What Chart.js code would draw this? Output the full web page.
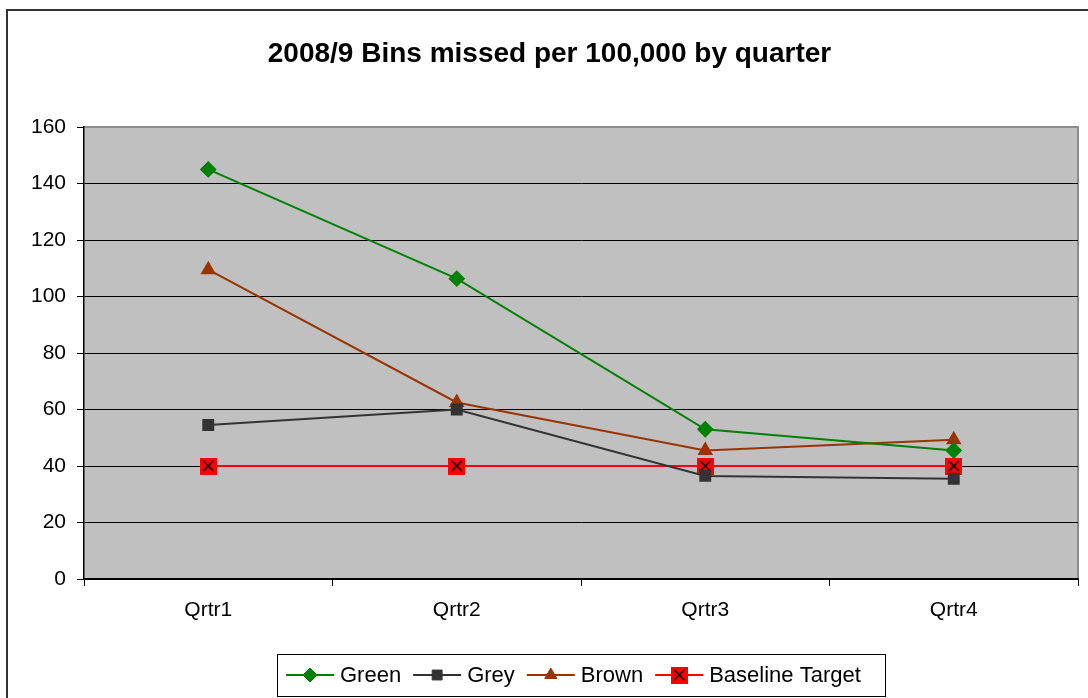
<!DOCTYPE html>
<html><head><meta charset="utf-8">
<script src="https://cdn.jsdelivr.net/npm/chart.js@4/dist/chart.umd.min.js"></script>
<style>html,body{margin:0;padding:0;background:#fff}#wrap{width:1088px;height:698px;position:relative}</style>
</head><body><div id="wrap"><canvas id="c" width="1088" height="698"></canvas></div>
<script>
const titleText = '2008/9 Bins missed per 100,000 by quarter';
const categories = ['Qrtr1', 'Qrtr2', 'Qrtr3', 'Qrtr4'];
const greenValues = [145, 106.3, 53, 45.5];
const greyValues = [54.5, 60, 36.5, 35.5];
const brownValues = [109.5, 62.5, 45.5, 49.3];
const baselineValues = [40, 40, 40, 40];
const yTickValues = [0, 20, 40, 60, 80, 100, 120, 140, 160];

const FONT = '"Liberation Sans", Arial, Helvetica, sans-serif';

// red square with black X marker
const xMark = document.createElement('canvas');
xMark.width = 17; xMark.height = 17;
(function(){
  const g = xMark.getContext('2d');
  g.fillStyle = '#FF0000'; g.fillRect(0, 0, 17, 17);
  g.strokeStyle = '#000'; g.lineWidth = 1.6;
  g.beginPath(); g.moveTo(3.5, 3.5); g.lineTo(13.5, 13.5); g.moveTo(13.5, 3.5); g.lineTo(3.5, 13.5); g.stroke();
})();

const framePlugin = {
  id: 'frame',
  beforeDraw(chart) {
    const ctx = chart.ctx, a = chart.chartArea;
    ctx.save();
    ctx.fillStyle = '#fff'; ctx.fillRect(0, 0, chart.width, chart.height);
    ctx.strokeStyle = '#333'; ctx.lineWidth = 2;
    ctx.beginPath(); ctx.moveTo(7, chart.height); ctx.lineTo(7, 10); ctx.lineTo(chart.width, 10); ctx.stroke();
    ctx.fillStyle = '#C0C0C0';
    ctx.fillRect(a.left, a.top, a.right - a.left, a.bottom - a.top);
    ctx.strokeStyle = '#8c8c8c'; ctx.lineWidth = 2;
    ctx.beginPath(); ctx.moveTo(a.left, a.top); ctx.lineTo(a.right, a.top); ctx.lineTo(a.right, a.bottom); ctx.stroke();
    ctx.restore();
  },
  afterDraw(chart) {
    const ctx = chart.ctx;
    ctx.save();
    const bx = 277, by = 654, bw = 608, bh = 42;
    ctx.fillStyle = '#fff'; ctx.fillRect(bx, by, bw, bh);
    ctx.strokeStyle = '#000'; ctx.lineWidth = 1;
    ctx.strokeRect(bx + 0.5, by + 0.5, bw, bh);
    ctx.font = '22px ' + FONT;
    ctx.textBaseline = 'middle'; ctx.textAlign = 'left';
    let x = 286; const cy = by + bh / 2;
    chart.data.datasets.forEach(ds => {
      ctx.strokeStyle = ds.borderColor; ctx.lineWidth = ds.borderWidth;
      ctx.beginPath(); ctx.moveTo(x, cy); ctx.lineTo(x + 48, cy); ctx.stroke();
      ctx.fillStyle = ds.pointBackgroundColor;
      ctx.strokeStyle = ds.pointBorderColor;
      ctx.lineWidth = 1;
      Chart.helpers.drawPoint(ctx, {
        pointStyle: ds.pointStyle, radius: ds.pointRadius, rotation: 0,
        borderWidth: 1
      }, x + 24, cy);
      ctx.fillStyle = '#000';
      ctx.fillText(ds.label, x + 54, cy + 1);
      x += 54 + ctx.measureText(ds.label).width + 12;
    });
    ctx.restore();
  }
};

new Chart(document.getElementById('c'), {
  type: 'line',
  data: {
    labels: categories,
    datasets: [
      { label: 'Green', data: greenValues, borderColor: '#008000', backgroundColor: '#008000',
        pointBackgroundColor: '#008000', pointBorderColor: '#008000', pointStyle: 'rectRot', pointRadius: 7, borderWidth: 2 },
      { label: 'Grey', data: greyValues, borderColor: '#333333', backgroundColor: '#333333',
        pointBackgroundColor: '#333333', pointBorderColor: '#333333', pointStyle: 'rect', pointRadius: 7, borderWidth: 2 },
      { label: 'Brown', data: brownValues, borderColor: '#993300', backgroundColor: '#993300',
        pointBackgroundColor: '#993300', pointBorderColor: '#993300', pointStyle: 'triangle', pointRadius: 7, borderWidth: 2 },
      { label: 'Baseline Target', data: baselineValues, borderColor: '#FF0000', backgroundColor: '#FF0000',
        pointBackgroundColor: '#FF0000', pointBorderColor: '#FF0000', pointStyle: xMark, pointRadius: 8, borderWidth: 2 }
    ]
  },
  options: {
    responsive: false,
    animation: false,
    events: [],
    layout: { padding: { left: 20, right: 9, top: 0, bottom: 0 } },
    plugins: {
      legend: { display: false },
      tooltip: { enabled: false },
      title: {
        display: true, text: titleText, color: '#000',
        font: { family: FONT, size: 28, weight: 'bold', lineHeight: 1.2 },
        padding: { top: 37, bottom: 56.4 }
      }
    },
    scales: {
      x: {
        offset: true,
        grid: { drawOnChartArea: false, drawTicks: true, tickLength: 7, color: '#000', offset: true },
        border: { display: true, color: '#000', width: 1.5 },
        ticks: { color: '#000', font: { family: FONT, size: 21 }, padding: 12, maxRotation: 0 },
        afterFit(s) { s.height = 119; }
      },
      y: {
        min: 0, max: 160,
        afterBuildTicks(s) { s.ticks = yTickValues.map(v => ({ value: v })); },
        grid: { color: c => (c.tick && c.tick.value === 160) ? 'rgba(0,0,0,0)' : '#000', lineWidth: 1, tickLength: 7, tickColor: '#000' },
        border: { display: true, color: '#000', width: 1.5 },
        ticks: { color: '#000', font: { family: FONT, size: 21 }, padding: 11 },
        afterFit(s) { s.width = 64; }
      }
    }
  },
  plugins: [framePlugin]
});
</script>
</body></html>
